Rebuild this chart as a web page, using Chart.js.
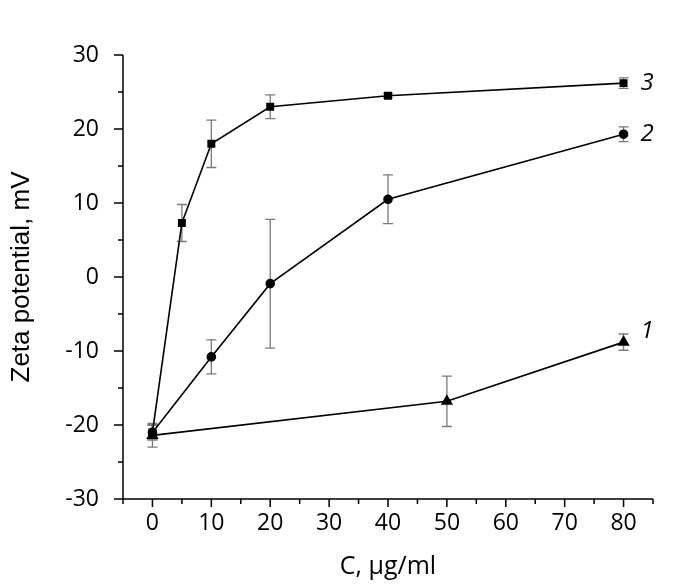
<!DOCTYPE html>
<html>
<head>
<meta charset="utf-8">
<script src="https://cdn.jsdelivr.net/npm/chart.js@4.4.0/dist/chart.umd.min.js"></script>
<style>
  html, body { margin: 0; padding: 0; background: #fff; }
  #wrap { width: 693px; height: 586px; }
</style>
</head>
<body>
<div id="wrap"><canvas id="myChart"></canvas></div>
<script>
// data
var x1 = [0, 50, 80];
var y1 = [-21.4, -16.8, -8.8];
var err1 = [1.6, 3.4, 1.1];

var x2 = [0, 10, 20, 40, 80];
var y2 = [-21.0, -10.8, -0.9, 10.5, 19.3];
var err2 = [1.0, 2.3, 8.7, 3.3, 1.0];

var x3 = [0, 5, 10, 20, 40, 80];
var y3 = [-21.0, 7.3, 18.0, 23.0, 24.5, 26.2];
var err3 = [1.0, 2.5, 3.2, 1.6, 0.3, 0.7];

var seriesNames = ['1', '2', '3'];
var xTicks = [0, 10, 20, 30, 40, 50, 60, 70, 80];
var yTicks = [-30, -20, -10, 0, 10, 20, 30];

function pts(xs, ys) {
    var out = [];
    for (var i = 0; i < xs.length; i++) out.push({x: xs[i], y: ys[i]});
    return out;
}

var FONT = "'Open Sans', 'DejaVu Sans', sans-serif";

// error bars + outward ticks + series numbers
var extras = {
    id: 'extras',
    beforeDatasetsDraw: function(chart) {
        var ctx = chart.ctx;
        var xs = chart.scales.x, ys = chart.scales.y;
        var errs = [err1, err2, err3];
        ctx.save();
        ctx.strokeStyle = '#7a7a7a';
        ctx.lineWidth = 1.3;
        chart.data.datasets.forEach(function(ds, k) {
            ds.data.forEach(function(p, i) {
                var e = errs[k][i];
                var px = xs.getPixelForValue(p.x);
                var top = ys.getPixelForValue(p.y + e);
                var bot = ys.getPixelForValue(p.y - e);
                ctx.beginPath();
                ctx.moveTo(px, top); ctx.lineTo(px, bot);
                ctx.moveTo(px - 5, top); ctx.lineTo(px + 5, top);
                ctx.moveTo(px - 5, bot); ctx.lineTo(px + 5, bot);
                ctx.stroke();
            });
        });
        ctx.restore();
    },
    afterDraw: function(chart) {
        var ctx = chart.ctx;
        var xs = chart.scales.x, ys = chart.scales.y;
        var a = chart.chartArea;
        ctx.save();
        ctx.strokeStyle = '#000';
        ctx.lineWidth = 1.5;
        ctx.beginPath();
        // axis lines
        ctx.moveTo(a.left, a.top); ctx.lineTo(a.left, a.bottom);
        ctx.moveTo(a.left, a.bottom); ctx.lineTo(a.right, a.bottom);
        // x ticks
        for (var v = -5; v <= 85; v += 5) {
            var px = xs.getPixelForValue(v);
            var len = (v % 10 === 0) ? 8 : 5;
            ctx.moveTo(px, a.bottom); ctx.lineTo(px, a.bottom + len);
        }
        // y ticks
        for (var w = -30; w <= 30; w += 5) {
            var py = ys.getPixelForValue(w);
            var ln = (w % 10 === 0) ? 9 : 5;
            ctx.moveTo(a.left, py); ctx.lineTo(a.left - ln, py);
        }
        ctx.stroke();
        // series numbers
        ctx.fillStyle = '#000';
        ctx.font = 'italic 24px ' + FONT;
        ctx.textBaseline = 'middle';
        ctx.textAlign = 'left';
        var lastX = [x1, x2, x3], lastY = [y1, y2, y3];
        for (var k = 0; k < 3; k++) {
            var n = lastX[k].length - 1;
            var lx = xs.getPixelForValue(lastX[k][n]) + 17;
            var ly = ys.getPixelForValue(lastY[k][n]) - (k === 0 ? 11 : 0);
            ctx.fillText(seriesNames[k], lx, ly);
        }
        ctx.restore();
    }
};

var ctx = document.getElementById('myChart');
var myChart = new Chart(ctx, {
    type: 'scatter',
    data: {
        datasets: [{
            label: seriesNames[0],
            data: pts(x1, y1),
            showLine: true,
            borderColor: '#000',
            borderWidth: 1.6,
            backgroundColor: '#000',
            pointStyle: 'triangle',
            pointRadius: 5.5
        }, {
            label: seriesNames[1],
            data: pts(x2, y2),
            showLine: true,
            borderColor: '#000',
            borderWidth: 1.6,
            backgroundColor: '#000',
            pointStyle: 'circle',
            pointRadius: 4
        }, {
            label: seriesNames[2],
            data: pts(x3, y3),
            showLine: true,
            borderColor: '#000',
            borderWidth: 1.6,
            backgroundColor: '#000',
            pointStyle: 'rect',
            pointRadius: 4.5
        }]
    },
    plugins: [extras],
    options: {
        responsive: true,
        maintainAspectRatio: false,
        animation: false,
        layout: { padding: { left: 0, top: 55, right: 40, bottom: 0 } },
        plugins: {
            legend: { display: false },
            tooltip: { enabled: false }
        },
        scales: {
            x: {
                type: 'linear',
                min: -5,
                max: 85,
                border: { display: false },
                grid: { display: false, drawTicks: false },
                afterBuildTicks: function(s) {
                    s.ticks = xTicks.map(function(v) { return {value: v}; });
                },
                ticks: {
                    color: '#000',
                    padding: 11,
                    autoSkip: false,
                    maxRotation: 0,
                    font: { family: FONT, size: 23 }
                },
                title: {
                    display: true,
                    text: 'C, μg/ml',
                    color: '#000',
                    font: { family: FONT, size: 25 },
                    padding: { top: 1 }
                },
                afterFit: function(s) { s.height = 87; }
            },
            y: {
                min: -30,
                max: 30,
                border: { display: false },
                grid: { display: false, drawTicks: false },
                afterBuildTicks: function(s) {
                    s.ticks = yTicks.map(function(v) { return {value: v}; });
                },
                ticks: {
                    color: '#000',
                    padding: 24,
                    autoSkip: false,
                    font: { family: FONT, size: 23 }
                },
                title: {
                    display: true,
                    text: 'Zeta potential, mV',
                    color: '#000',
                    font: { family: "'Liberation Sans', Arial, sans-serif", size: 26 },
                    padding: { top: 6, bottom: 0 }
                },
                afterFit: function(s) { s.width = 123; }
            }
        }
    }
});
</script>
</body>
</html>
